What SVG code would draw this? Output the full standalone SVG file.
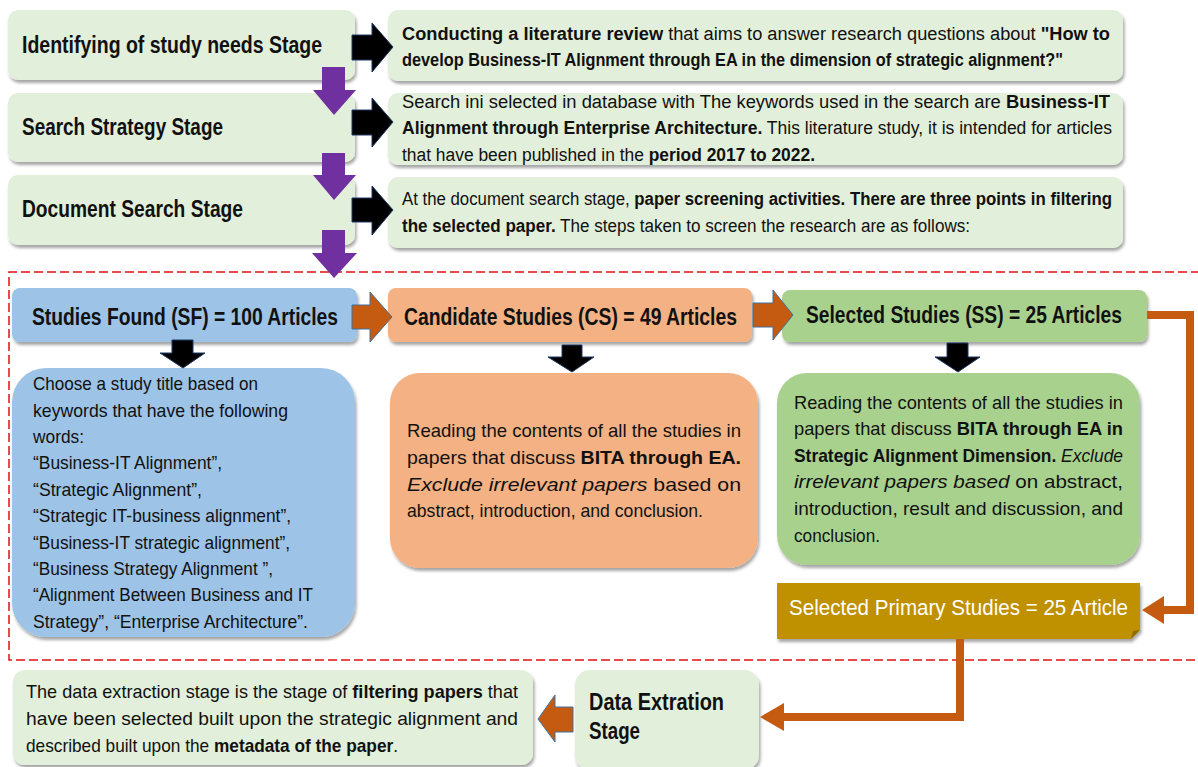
<svg xmlns="http://www.w3.org/2000/svg" width="1198" height="767" viewBox="0 0 1198 767">
<defs>
<filter id="sh" x="-5%" y="-10%" width="110%" height="130%">
<feDropShadow dx="1.5" dy="3" stdDeviation="1.8" flood-color="#000" flood-opacity="0.35"/>
</filter>
<style>
text{font-family:"Liberation Sans",Arial,sans-serif;fill:#111;}
.lg{fill:#E2EFDA;}
.st{font-size:23px;font-weight:bold;}
.rt{font-size:18px;}
.hd{font-size:23px;font-weight:bold;}
.ct{font-size:19px;}
.b{font-weight:bold;}
.i{font-style:italic;}
.blk{fill:#000;stroke:#1F3864;stroke-width:1;}
.pur{fill:#7030A0;}
.org{fill:#C55A11;stroke:#41719C;stroke-width:1;}
.con{fill:none;stroke:#C55A11;stroke-width:8;}
.oh{fill:#C55A11;}
</style>
</defs>
<rect width="1198" height="767" fill="#fff"/>

<g id="frame">
<path d="M1200,272 H9 V660 H1200" fill="none" stroke="#E01010" stroke-width="1.5" stroke-dasharray="9,4"/>
</g>

<g id="stage1"><rect class="lg" x="8" y="10" width="347" height="70" rx="10" filter="url(#sh)"/>
<text class="st" x="22" y="53" textLength="300" lengthAdjust="spacingAndGlyphs">Identifying of study needs Stage</text></g>
<g id="stage2"><rect class="lg" x="8" y="93" width="347" height="69" rx="10" filter="url(#sh)"/>
<text class="st" x="22" y="135" textLength="201" lengthAdjust="spacingAndGlyphs">Search Strategy Stage</text></g>
<g id="stage3"><rect class="lg" x="8" y="175" width="347" height="70" rx="10" filter="url(#sh)"/>
<text class="st" x="22" y="217" textLength="221" lengthAdjust="spacingAndGlyphs">Document Search Stage</text></g>

<g id="desc1"><rect class="lg" x="388" y="10" width="735" height="71" rx="10" filter="url(#sh)"/>
<text class="rt" x="402" y="40" textLength="708" lengthAdjust="spacingAndGlyphs"><tspan class="b">Conducting a literature review</tspan> that aims to answer research questions about <tspan class="b">"How to</tspan></text>
<text class="rt b" x="402" y="66" textLength="661" lengthAdjust="spacingAndGlyphs">develop Business-IT Alignment through EA in the dimension of strategic alignment?"</text></g>
<g id="desc2"><rect class="lg" x="388" y="93" width="735" height="72" rx="10" filter="url(#sh)"/>
<text class="rt" x="402" y="108" textLength="708" lengthAdjust="spacingAndGlyphs">Search ini selected in database with The keywords used in the search are <tspan class="b">Business-IT</tspan></text>
<text class="rt" x="402" y="134" textLength="710" lengthAdjust="spacingAndGlyphs"><tspan class="b">Alignment through Enterprise Architecture.</tspan> This literature study, it is intended for articles</text>
<text class="rt" x="402" y="161" textLength="413" lengthAdjust="spacingAndGlyphs">that have been published in the <tspan class="b">period 2017 to 2022.</tspan></text></g>
<g id="desc3"><rect class="lg" x="388" y="177" width="735" height="71" rx="10" filter="url(#sh)"/>
<text class="rt" x="402" y="205" textLength="710" lengthAdjust="spacingAndGlyphs">At the document search stage, <tspan class="b">paper screening activities. There are three points in filtering</tspan></text>
<text class="rt" x="402" y="232" textLength="568" lengthAdjust="spacingAndGlyphs"><tspan class="b">the selected paper.</tspan> The steps taken to screen the research are as follows:</text></g>

<g id="sf"><rect x="12" y="288" width="345" height="54" rx="8" fill="#9DC3E6" filter="url(#sh)"/>
<text class="hd" x="32" y="325" textLength="306" lengthAdjust="spacingAndGlyphs">Studies Found (SF) = 100 Articles</text></g>
<g id="cs"><rect x="388" y="288" width="364" height="54" rx="8" fill="#F4B183" filter="url(#sh)"/>
<text class="hd" x="404" y="325" textLength="333" lengthAdjust="spacingAndGlyphs">Candidate Studies (CS) = 49 Articles</text></g>
<g id="ss"><rect x="782" y="290" width="365" height="52" rx="8" fill="#A9D18E" filter="url(#sh)"/>
<text class="hd" x="806" y="323" textLength="316" lengthAdjust="spacingAndGlyphs">Selected Studies (SS) = 25 Articles</text></g>

<g id="sfdesc"><rect x="12" y="368" width="343" height="269" rx="34" fill="#9DC3E6" filter="url(#sh)"/>
<text class="ct" x="33" y="390" textLength="225" lengthAdjust="spacingAndGlyphs">Choose a study title based on</text>
<text class="ct" x="33" y="417" textLength="255" lengthAdjust="spacingAndGlyphs">keywords that have the following</text>
<text class="ct" x="33" y="443" textLength="51" lengthAdjust="spacingAndGlyphs">words:</text>
<text class="ct" x="33" y="469" textLength="189" lengthAdjust="spacingAndGlyphs">“Business-IT Alignment”,</text>
<text class="ct" x="33" y="496" textLength="169" lengthAdjust="spacingAndGlyphs">“Strategic Alignment”,</text>
<text class="ct" x="33" y="522" textLength="258" lengthAdjust="spacingAndGlyphs">“Strategic IT-business alignment”,</text>
<text class="ct" x="33" y="549" textLength="257" lengthAdjust="spacingAndGlyphs">“Business-IT strategic alignment”,</text>
<text class="ct" x="33" y="575" textLength="240" lengthAdjust="spacingAndGlyphs">“Business Strategy Alignment ”,</text>
<text class="ct" x="33" y="601" textLength="280" lengthAdjust="spacingAndGlyphs">“Alignment Between Business and IT</text>
<text class="ct" x="33" y="628" textLength="275" lengthAdjust="spacingAndGlyphs">Strategy”, “Enterprise Architecture”.</text></g>

<g id="csdesc"><rect x="390" y="373" width="368" height="195" rx="30" fill="#F4B183" filter="url(#sh)"/>
<text class="ct" x="407" y="437" textLength="334" lengthAdjust="spacingAndGlyphs">Reading the contents of all the studies in</text>
<text class="ct" x="407" y="464" textLength="334" lengthAdjust="spacingAndGlyphs">papers that discuss <tspan class="b">BITA through EA.</tspan></text>
<text class="ct" x="407" y="491" textLength="334" lengthAdjust="spacingAndGlyphs"><tspan class="i">Exclude irrelevant papers</tspan> based on</text>
<text class="ct" x="407" y="517" textLength="296" lengthAdjust="spacingAndGlyphs">abstract, introduction, and conclusion.</text></g>

<g id="ssdesc"><rect x="777" y="373" width="363" height="192" rx="30" fill="#A9D18E" filter="url(#sh)"/>
<text class="ct" x="794" y="409" textLength="329" lengthAdjust="spacingAndGlyphs">Reading the contents of all the studies in</text>
<text class="ct" x="794" y="435" textLength="329" lengthAdjust="spacingAndGlyphs">papers that discuss <tspan class="b">BITA through EA in</tspan></text>
<text class="ct" x="794" y="462" textLength="329" lengthAdjust="spacingAndGlyphs"><tspan class="b">Strategic Alignment Dimension.</tspan> <tspan class="i">Exclude</tspan></text>
<text class="ct" x="794" y="488" textLength="329" lengthAdjust="spacingAndGlyphs"><tspan class="i">irrelevant papers based</tspan> on abstract,</text>
<text class="ct" x="794" y="515" textLength="329" lengthAdjust="spacingAndGlyphs">introduction, result and discussion, and</text>
<text class="ct" x="794" y="542" textLength="86" lengthAdjust="spacingAndGlyphs">conclusion.</text></g>

<g id="sps"><path d="M777,583 H1140 V630 L1131,639 H777 Z" fill="#BF9000" filter="url(#sh)"/>
<path d="M1140,630 L1131,639 L1133,631 Z" fill="#8F6C00"/>
<text x="789" y="615" font-size="22" textLength="339" lengthAdjust="spacingAndGlyphs" style="fill:#fff">Selected Primary Studies = 25 Article</text></g>

<g id="dataext"><rect class="lg" x="575" y="670" width="184" height="100" rx="15" filter="url(#sh)"/>
<text class="hd" x="589" y="710" textLength="135" lengthAdjust="spacingAndGlyphs">Data Extration</text>
<text class="hd" x="589" y="739" textLength="51" lengthAdjust="spacingAndGlyphs">Stage</text></g>

<g id="datadesc"><rect class="lg" x="13" y="670" width="520" height="95" rx="12" filter="url(#sh)"/>
<text class="ct" x="26" y="698" textLength="492" lengthAdjust="spacingAndGlyphs">The data extraction stage is the stage of <tspan class="b">filtering papers</tspan> that</text>
<text class="ct" x="26" y="725" textLength="492" lengthAdjust="spacingAndGlyphs">have been selected built upon the strategic alignment and</text>
<text class="ct" x="26" y="752" textLength="372" lengthAdjust="spacingAndGlyphs">described built upon the <tspan class="b">metadata of the paper</tspan>.</text></g>

<g id="connectors">
<path class="pur" d="M322,67 H345 V90 H356 L334,115 L313,90 H322 Z"/>
<path class="pur" d="M322,153 H345 V175 H356 L334,200 L313,175 H322 Z"/>
<path class="pur" d="M322,230 H345 V253 H357 L334,278 L312,253 H322 Z"/>
<path class="blk" d="M352,35 H372 V23 L393,47 L372,72 V60 H352 Z"/>
<path class="blk" d="M352,110 H372 V98 L393,122 L372,147 V135 H352 Z"/>
<path class="blk" d="M352,198 H372 V186 L393,210 L372,235 V222 H352 Z"/>
<path class="blk" d="M172,340 H193 V353 H205 L183,368 L160,353 H172 Z"/>
<path class="blk" d="M562,345 H582 V357 H594 L572,372 L548,357 H562 Z"/>
<path class="blk" d="M947,343 H968 V357 H980 L958,372 L935,357 H947 Z"/>
<path class="org" d="M352,305 H370 V292 L392,317 L370,342 V329 H352 Z"/>
<path class="org" d="M753,303 H773 V290 L793,315 L773,340 V327 H753 Z"/>
<path class="org" d="M573,707 H555 V695 L538,719 L555,742 V732 H573 Z"/>
<path class="con" d="M1147,315 H1190 V610 H1160"/>
<path class="oh" d="M1142,610 L1164,596 L1164,624 Z"/>
<path class="con" d="M960,639 V717 H780"/>
<path class="oh" d="M760,717 L784,703 L784,731 Z"/>
</g>
</svg>
